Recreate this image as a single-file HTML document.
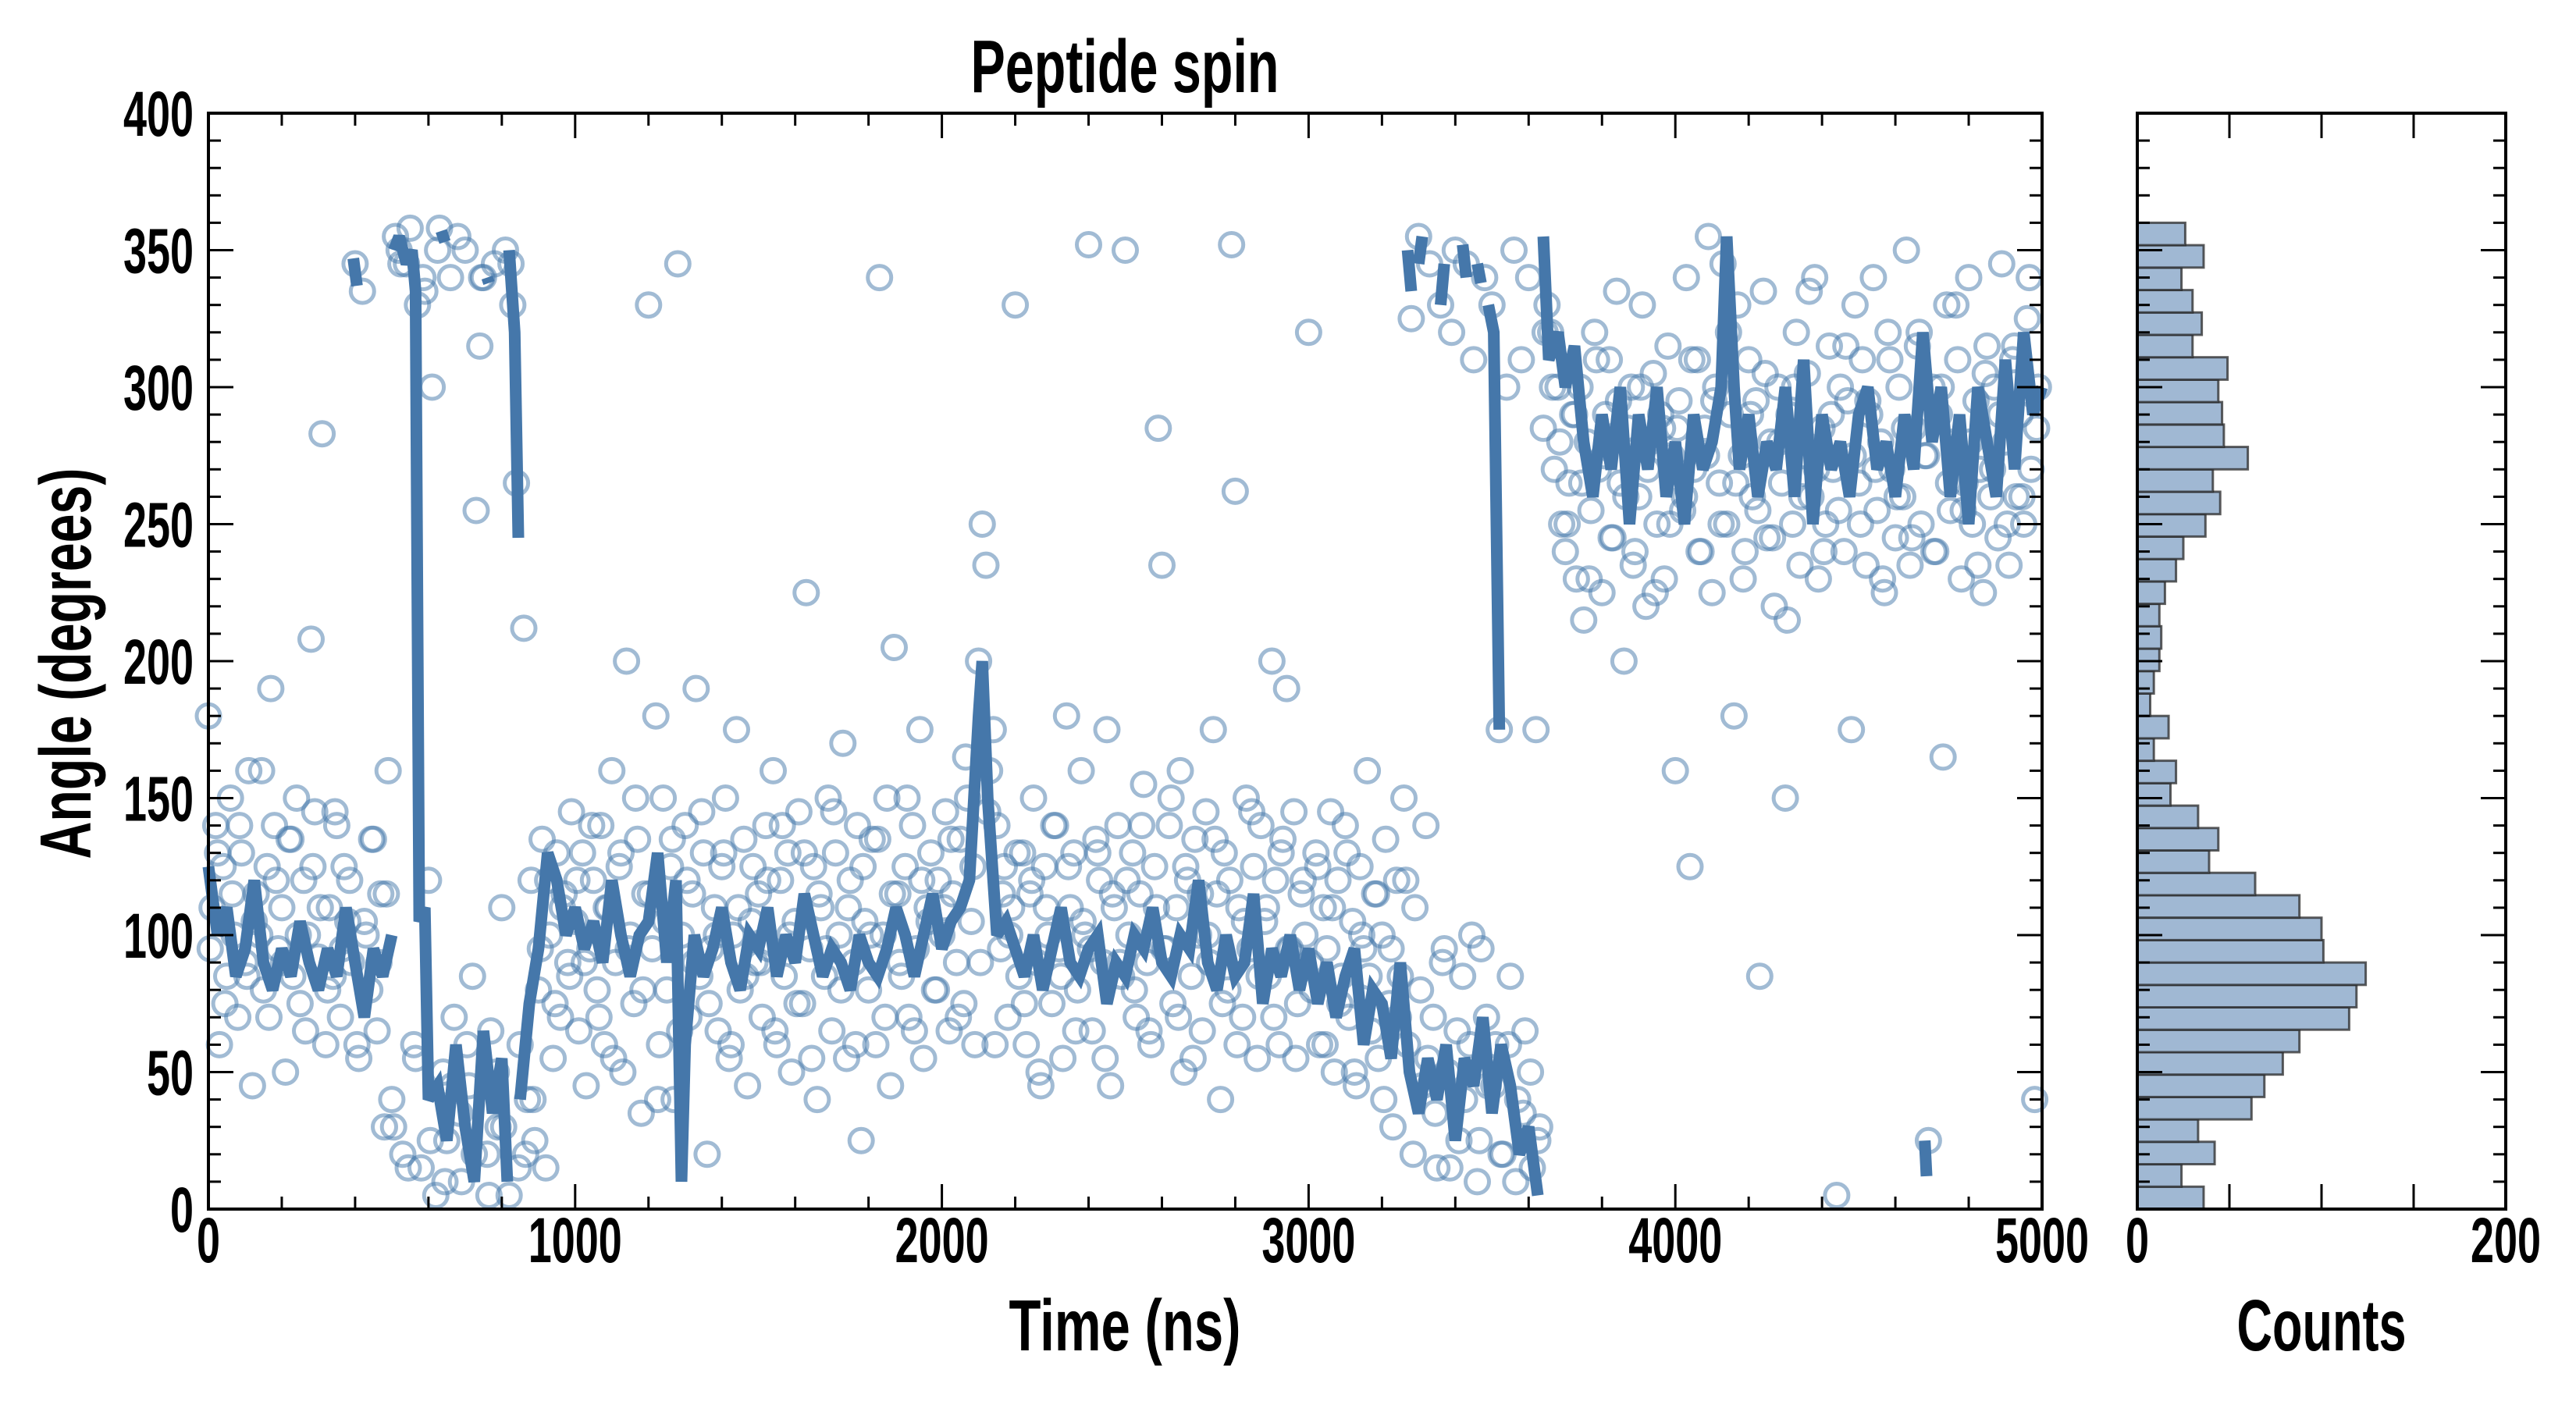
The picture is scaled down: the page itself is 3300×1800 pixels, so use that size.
<!DOCTYPE html>
<html><head><meta charset="utf-8"><style>
html,body{margin:0;padding:0;background:#fff}
svg{display:block}
text{font-family:"Liberation Sans Narrow","Liberation Sans",sans-serif;font-weight:bold;fill:#000}
</style></head><body>
<svg id="chart" width="3300" height="1800" viewBox="0 0 3300 1800" xmlns="http://www.w3.org/2000/svg">
<rect width="3300" height="1800" fill="#fff"/>
<g id="scatterLayer"></g>
<g id="lineLayer"></g>
<g id="histLayer"></g>
<g id="axisLayer"></g>
<text x="1441" y="118" font-size="96" text-anchor="middle" textLength="395" lengthAdjust="spacingAndGlyphs">Peptide spin</text>
<text x="1441" y="1730" font-size="93" text-anchor="middle" textLength="297" lengthAdjust="spacingAndGlyphs">Time (ns)</text>
<text x="2974" y="1730" font-size="93" text-anchor="middle" textLength="217" lengthAdjust="spacingAndGlyphs">Counts</text>
<text transform="translate(116,850) rotate(-90)" x="0" y="0" font-size="93" text-anchor="middle" textLength="501" lengthAdjust="spacingAndGlyphs">Angle (degrees)</text>
</svg>
<script>
// scatter angles sampled every 10 ns
const scatterStep = 10;
const scatterAngles = [
180,110,140,60,125,85,150,100,70,130, 90,160,45,115,100,80,125,190,140,95,
110,50,135,85,150,75,120,100,208,145, 92,283,60,110,85,140,70,125,105,90,
345,55,335,100,80,135,65,115,30,160,
40,355,350,20,345,358,60,330,15,335, 120,300,5,358,50,25,340,70,355,10,
350,45,85,255,315,340,20,65,345,30, 110,350,5,330,265,60,212,40,120,25,
80,135,15,100,55,130,70,115,90,145,
105,65,130,45,95,120,80,140,60,110, 160,90,125,50,200,100,75,135,35,115,
330,95,180,60,150,80,125,40,345,100, 140,70,115,190,85,130,20,95,110,65,
125,150,55,100,175,80,135,45,105,90,
115,70,140,95,160,60,120,85,130,50, 105,145,75,225,95,125,40,110,85,150,
65,130,100,170,55,120,90,140,25,105, 80,135,60,340,100,150,45,205,115,85,
125,70,140,95,175,55,110,130,80,120,
100,145,65,115,90,135,75,150,105,60, 200,250,235,160,175,140,95,125,70,110,
330,85,130,60,115,150,90,45,125,100, 75,140,95,55,180,110,130,80,160,100,
352,65,135,120,90,175,45,110,140,85,
350,100,130,70,115,155,90,60,125,285, 235,95,140,75,110,160,50,120,85,135,
100,65,145,90,175,115,40,130,80,352, 262,110,70,150,95,125,55,140,105,85,
200,120,60,135,190,95,145,75,115,100,
320,80,130,60,110,95,145,50,120,85, 140,70,105,45,125,95,160,65,115,55,
100,135,75,30,120,85,150,60,325,110, 355,45,140,345,70,15,330,95,50,320,
350,25,85,345,60,310,10,95,340,45,
330,60,175,20,300,85,350,40,310,65, 340,15,175,30,285,330,320,270,300,250,
240,265,290,230,300,215,280,255,320,270, 225,290,310,245,335,265,200,285,300,240,
260,330,220,280,305,250,290,230,315,275,
160,295,255,340,125,270,310,240,285,355, 225,300,265,345,250,290,180,330,275,240,
310,260,295,85,335,245,280,220,300,265, 150,290,250,320,235,275,305,260,340,230,
285,250,315,270,5,300,240,295,175,330,
265,310,235,290,340,255,280,225,320,270, 245,300,260,350,235,285,315,250,275,25,
300,240,290,165,330,255,280,310,230,265, 340,250,295,270,225,315,260,300,245,345,
280,235,310,260,290,250,325,270,40,300
];
// second scatter pass: every 20 ns, offset 5 ns
const scatter2Step = 20;
const scatter2Offset = 5;
const scatterAngles2 = [
95,130,75,115,140,85,105,160,70,120,90,135,100,65,125,110,80,145,95,120,60,105,135,90,115,
30,345,15,55,340,25,350,10,45,35,60,20,340,5,50,30,345,15,20,40,95,120,75,110,85,
120,90,140,70,110,55,130,95,150,80,115,40,105,135,65,120,90,145,75,100,130,60,110,85,125,
90,120,65,140,100,75,130,55,115,95,145,80,110,60,125,100,135,70,115,90,150,65,120,105,80,
110,135,70,165,125,90,145,60,115,100,130,75,120,50,110,140,85,125,65,105,95,130,55,115,90,
120,80,140,65,110,95,150,70,125,55,115,100,135,75,120,60,105,145,85,110,70,130,95,55,120,
90,125,60,110,75,130,50,100,85,115,40,95,70,120,20,80,55,35,90,15,65,40,100,25,70,
45,20,60,10,35,50,25,320,300,280,250,290,265,230,310,275,245,295,260,235,300,270,225,285,250,
285,260,310,240,275,295,250,320,265,230,290,255,305,245,280,215,300,260,335,270,240,290,255,315,275,
250,295,270,230,310,260,285,245,320,275,240,300,265,330,255,280,235,305,270,290,250,315,260,340,285
];
// smoothed line (null = break)
const lineTimes = [0,25,50,75,100,125,150,175,200,225,250,275,300,325,350,375,400,425,450,475,500,null,
506,520,540,555,565,575,590,600,625,650,675,700,725,750,775,800,815,null,
820,835,845,null,
850,875,900,925,950,975,1000,1025,1050,1075,1100,1125,1150,1175,1200,1225,1250,1275,1290,1300,1325,1350,1375,1400,1425,1450,1475,1500,1525,1550,1575,1600,1625,1650,1675,1700,1725,1750,1775,1800,1825,1850,1875,1900,1925,1950,1975,2000,2025,2050,2075,2100,2110,2125,2150,2175,2200,2225,2250,2275,2300,2325,2350,2375,2400,2425,2450,2475,2500,2525,2550,2575,2600,2625,2650,2675,2700,2725,2750,2775,2800,2825,2850,2875,2900,2925,2950,2975,3000,3025,3050,3075,3100,3125,3150,3175,3200,3225,3250,3275,3300,3325,3350,3375,3400,3425,3450,3475,3500,3525,3550,3575,3600,3625,null,
395,405,null,635,645,null,760,765,null,
3270,3280,null,3300,3310,null,3360,3370,null,3420,3430,null,3460,3470,null,3490,3505,3520,null,
3640,3655,3680,3700,3725,3750,3775,3800,3825,3850,3875,3900,3925,3950,3975,4000,4025,4050,4075,4100,4125,4140,4160,4175,4200,4225,4250,4275,4300,4325,4350,4375,4400,4425,4450,4475,4500,4525,4550,4575,4600,4625,4650,4675,4700,4725,4750,4775,4800,4825,4850,4875,4900,4925,4950,4975,5000,null,
4680,4685];
const lineValues = [125,100,110,85,95,120,90,80,95,85,105,90,80,95,85,110,90,70,95,85,100,null,
350,355,345,350,335,105,110,40,45,25,60,30,10,65,35,55,10,null,
350,320,245,null,
40,75,95,130,120,100,110,95,105,90,120,100,85,100,105,130,90,120,10,60,100,85,95,110,90,80,100,95,110,85,100,90,115,100,85,95,90,80,100,90,85,95,110,100,85,100,115,95,105,110,120,180,200,150,100,105,95,85,100,80,95,110,90,85,95,100,75,90,85,100,95,110,90,85,100,95,120,90,80,100,85,90,115,75,95,85,100,80,95,75,90,70,85,95,60,80,75,55,90,50,35,55,40,60,25,55,45,70,35,60,45,20,30,5,null,
347,337,null,357,353,null,340,338,null,
350,335,null,345,355,null,330,345,null,352,340,null,345,338,null,330,320,175,null,
355,310,320,300,315,280,260,290,270,300,250,290,270,300,260,280,250,290,270,280,300,355,300,270,290,260,280,270,300,260,310,250,290,270,280,260,290,300,270,280,260,290,270,320,280,300,260,290,250,300,280,260,310,270,320,290,300,null,
25,12];
// histogram: 44 bins from 0 to 360 degrees (bottom to top)
const histCounts = [36,24,42,33,62,69,79,88,115,119,124,101,100,88,64,39,44,33,18,21,9,17,7,9,12,13,12,15,21,25,37,45,41,60,47,46,44,49,30,35,30,24,36,26];
const histMin = 0, histMax = 360;
const xTicks = [0,1000,2000,3000,4000,5000];
const yTicks = [0,50,100,150,200,250,300,350,400];
const histTicks = [0,200];

const NS='http://www.w3.org/2000/svg';
const X0=267,X1=2616,Y0=145,Y1=1549,HX0=2738,HX1=3210;
const xs=t=>X0+(t/5000)*(X1-X0);
const ys=v=>Y1-(v/400)*(Y1-Y0);
const hs=c=>HX0+(c/200)*(HX1-HX0);
function mk(tag,attrs,parent){const e=document.createElementNS(NS,tag);for(const k in attrs)e.setAttribute(k,attrs[k]);parent.appendChild(e);return e;}

const sl=document.getElementById('scatterLayer');
scatterAngles.forEach((a,i)=>{
  const c=mk('circle',{cx:xs(i*scatterStep).toFixed(1),cy:ys(a).toFixed(1),r:15,fill:'none',stroke:'rgba(68,119,170,0.5)','stroke-width':5},sl);
  
  
});
scatterAngles2.forEach((a,i)=>{
  const c=mk('circle',{cx:xs(scatter2Offset+i*scatter2Step).toFixed(1),cy:ys(a).toFixed(1),r:15,fill:'none',stroke:'rgba(68,119,170,0.5)','stroke-width':5},sl);
  
  
});

const ll=document.getElementById('lineLayer');
let d='',pen=false;
for(let i=0;i<lineTimes.length;i++){
  if(lineTimes[i]===null||lineValues[i]===null){pen=false;continue;}
  d+=(pen?'L':'M')+xs(lineTimes[i]).toFixed(1)+' '+ys(lineValues[i]).toFixed(1);
  pen=true;
}
const lp=mk('path',{d:d,fill:'none',stroke:'#4577aa','stroke-width':15,'stroke-linejoin':'miter','stroke-miterlimit':3,'stroke-linecap':'butt'},ll);



const hl=document.getElementById('histLayer');
const bw=(histMax-histMin)/histCounts.length;
histCounts.forEach((c,i)=>{
  const yTop=ys(histMin+(i+1)*bw), yBot=ys(histMin+i*bw);
  const r=mk('rect',{x:HX0,y:yTop.toFixed(1),width:(hs(c)-HX0).toFixed(1),height:(yBot-yTop).toFixed(1),fill:'#a0b8d3',stroke:'rgba(40,40,40,0.75)','stroke-width':3},hl);
  
  
});

const al=document.getElementById('axisLayer');
function frame(x0,x1,name){
  const r=mk('rect',{x:x0,y:Y0,width:x1-x0,height:Y1-Y0,fill:'none',stroke:'#000','stroke-width':4},al);
  
  
}
frame(X0,X1,'main-plot-frame');
frame(HX0,HX1,'hist-plot-frame');
function line(x1,y1,x2,y2,w){mk('line',{x1:x1,y1:y1,x2:x2,y2:y2,stroke:'#000','stroke-width':w},al);}
for(let t=0;t<=5000;t+=200){const x=xs(t);const L=(t%1000===0)?32:16;line(x,Y1,x,Y1-L,3);line(x,Y0,x,Y0+L,3);}
for(let v=0;v<=400;v+=10){const y=ys(v);const L=(v%50===0)?32:16;
  line(X0,y,X0+L,y,3);line(X1,y,X1-L,y,3);line(HX0,y,HX0+L,y,3);line(HX1,y,HX1-L,y,3);}
for(let c=0;c<=200;c+=50){const x=hs(c);line(x,Y1,x,Y1-32,3);line(x,Y0,x,Y0+32,3);}
function label(txt,x,y,anchor,name){
  const t=mk('text',{x:x,y:y,'font-size':82,'text-anchor':anchor,textLength:30*txt.length,lengthAdjust:'spacingAndGlyphs'},al);
  t.textContent=txt;
  
  
}
yTicks.forEach(v=>label(String(v),248,ys(v)+29,'end','y-tick-label'));
xTicks.forEach(t=>label(String(t),xs(t),1617,'middle','x-tick-label'));
histTicks.forEach(c=>label(String(c),hs(c),1617,'middle','hist-x-tick-label'));
</script>
</body></html>
